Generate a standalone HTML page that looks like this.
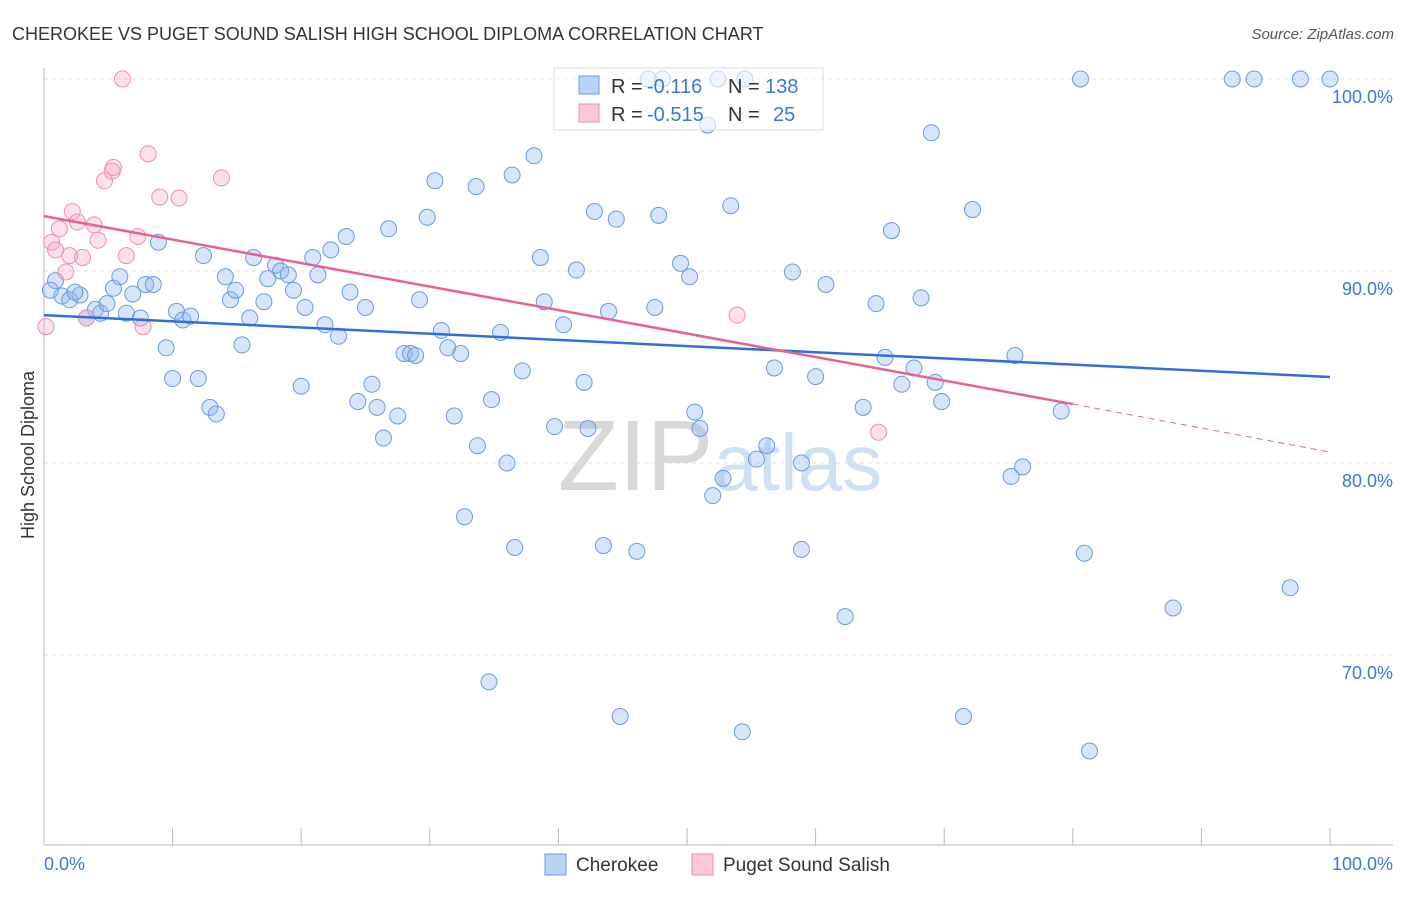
<!DOCTYPE html>
<html><head><meta charset="utf-8"><style>
body{margin:0;background:#fff;font-family:"Liberation Sans",sans-serif;}
svg text{font-family:"Liberation Sans",sans-serif;}
</style></head><body>
<svg id="chart" width="1406" height="892" viewBox="0 0 1406 892">
<text x="12" y="40" font-size="18" fill="#333">CHEROKEE VS PUGET SOUND SALISH HIGH SCHOOL DIPLOMA CORRELATION CHART</text>
<text x="1394" y="39" font-size="15" fill="#555" text-anchor="end" font-style="italic">Source: ZipAtlas.com</text>
<text x="34" y="455" font-size="18" fill="#333" text-anchor="middle" transform="rotate(-90 34 455)">High School Diploma</text>
<text x="720" y="490" font-size="100" fill="#ddd" text-anchor="middle" font-family="Liberation Serif"><tspan fill="#d8d8d8">ZIP</tspan><tspan fill="#d0e0f3" font-family="Liberation Sans" font-size="80">atlas</tspan></text>
<g id="grid"></g><g id="marks"></g>
<g>
<rect x="554" y="68" width="269" height="62" fill="rgba(255,255,255,0.6)" stroke="#ddd"/>
<rect x="579" y="76" width="20" height="18" fill="#b9d3f5" stroke="#6a9be0"/>
<rect x="579" y="104" width="20" height="18" fill="#fbc8d8" stroke="#ee8fae"/>
<text x="611" y="93" font-size="20" fill="#333">R =</text><text x="647" y="93" font-size="20" fill="#3d78d8">-0.116</text>
<text x="728" y="93" font-size="20" fill="#333">N =</text><text x="765" y="93" font-size="20" fill="#3d78d8">138</text>
<text x="611" y="121" font-size="20" fill="#333">R =</text><text x="647" y="121" font-size="20" fill="#3d78d8">-0.515</text>
<text x="728" y="121" font-size="20" fill="#333">N =</text><text x="773" y="121" font-size="20" fill="#3d78d8">25</text>
</g>
<g>
<rect x="545" y="854" width="21" height="21" fill="#b9d3f5" stroke="#6a9be0"/>
<text x="576" y="871" font-size="19" fill="#333">Cherokee</text>
<rect x="692" y="854" width="21" height="21" fill="#fbc8d8" stroke="#ee8fae"/>
<text x="723" y="871" font-size="19" fill="#333">Puget Sound Salish</text>
</g>
</svg>
<script>
const yTicks=[100,90,80,70];
const yTickLabels=["100.0%","90.0%","80.0%","70.0%"];
const xTickLabels=["0.0%","100.0%"];
const cherX=[0.9,0.5,1.4,2.0,2.8,2.4,3.3,4.0,4.4,4.9,5.4,5.9,6.4,6.9,7.5,7.9,8.5,8.9,9.5,10.0,10.3,10.8,11.4,12.0,12.4,12.9,13.4,14.1,14.5,14.9,15.4,16.0,16.3,17.1,17.4,18.0,18.4,19.0,19.4,20.0,20.3,20.9,21.3,21.85,22.3,22.9,23.5,23.8,24.4,25.0,25.5,25.9,26.4,26.8,27.5,28.0,28.5,28.9,29.2,29.8,30.4,30.9,31.4,31.9,32.4,32.7,33.6,33.7,34.6,34.8,35.5,36.0,36.4,36.6,37.2,38.1,38.6,38.9,39.7,40.4,41.4,42.0,42.3,42.8,43.5,43.9,44.5,44.8,46.1,47.5,47.8,49.5,50.2,50.6,51.0,51.6,52.0,52.8,53.4,54.3,55.4,56.2,56.8,58.2,58.9,58.9,60.0,60.8,62.3,63.7,64.7,65.4,65.9,66.7,67.65,68.2,69.0,69.3,69.8,71.5,72.2,75.2,75.5,76.1,79.1,80.6,80.9,81.3,87.8,92.4,94.1,96.9,97.7,100,47.0,48.1,52.4,54.5];
const cherY=[89.5,89.0,88.7,88.5,88.75,88.9,87.55,88.0,87.8,88.3,89.1,89.7,87.8,88.8,87.55,89.3,89.3,91.5,86.0,84.4,87.9,87.45,87.65,84.4,90.8,82.9,82.55,89.7,88.5,89.0,86.15,87.55,90.7,88.4,89.6,90.3,90.0,89.8,89.0,84.0,88.1,90.7,89.8,87.2,91.1,86.6,91.8,88.9,83.2,88.1,84.1,82.9,81.3,92.2,82.45,85.7,85.7,85.6,88.5,92.8,94.7,86.9,86.0,82.45,85.7,77.2,94.4,80.9,68.6,83.3,86.8,80.0,95.0,75.6,84.8,96.0,90.7,88.4,81.9,87.2,90.05,84.2,81.8,93.1,75.7,87.9,92.7,66.8,75.4,88.1,92.9,90.4,89.7,82.65,81.8,97.6,78.3,79.2,93.4,66.0,80.2,80.9,84.95,89.95,80.0,75.5,84.5,89.3,72.0,82.9,88.3,85.5,92.1,84.1,84.95,88.6,97.2,84.2,83.2,66.8,93.2,79.3,85.6,79.8,82.7,100,75.3,65.0,72.45,100,100,73.5,100,100,100,100,100,100];
const pugX=[0.15,0.6,0.9,1.2,1.7,2.0,2.2,2.6,3.0,3.3,3.9,4.2,4.7,5.3,5.4,6.1,6.4,7.3,7.7,8.1,9.0,10.5,13.8,53.9,64.9];
const pugY=[87.1,91.5,91.1,92.2,89.95,90.8,93.1,92.55,90.7,87.55,92.4,91.6,94.7,95.2,95.4,100,90.8,91.8,87.1,96.1,93.85,93.8,94.85,87.7,81.6];
const cherTrend=[87.7,84.48];
const pugTrend=[92.86,83.07,80.57];
const NS="http://www.w3.org/2000/svg";
const sx=v=>44+v*12.86, sy=v=>79+(100-v)*19.2;
function mk(t,a,p){const e=document.createElementNS(NS,t);for(const k in a)e.setAttribute(k,a[k]);p.appendChild(e);return e;}
const g=document.getElementById('grid'), m=document.getElementById('marks');
yTicks.forEach((t,i)=>{
 const l=mk('line',{x1:44,x2:1393,y1:sy(t),y2:sy(t),stroke:'#ddd','stroke-dasharray':'4,4'},g);
 
 
 const tx=mk('text',{x:1393,y:sy(t)+24,'font-size':18,fill:'#3d78d8','text-anchor':'end'},g);
 tx.textContent=yTickLabels[i];
 
 
});
mk('line',{x1:44,x2:44,y1:68,y2:845,stroke:'#bbb'},g);
mk('line',{x1:44,x2:1393,y1:845,y2:845,stroke:'#bbb'},g);
for(let i=1;i<=10;i++){const x=sx(i*10);mk('line',{x1:x,x2:x,y1:828,y2:845,stroke:'#bbb'},g);}
[[0,'start',44],[1,'end',1393]].forEach(([i,a,x])=>{
 const tx=mk('text',{x:x,y:870,'font-size':18,fill:'#3d78d8','text-anchor':a},g);
 tx.textContent=xTickLabels[i];
 
 
});
cherX.forEach((x,i)=>{
 const c=mk('circle',{cx:sx(x),cy:sy(cherY[i]),r:8,fill:'rgba(140,180,240,0.35)',stroke:'#6a9be0','stroke-width':1},m);
 
 
});
pugX.forEach((x,i)=>{
 const c=mk('circle',{cx:sx(x),cy:sy(pugY[i]),r:8,fill:'rgba(248,170,195,0.35)',stroke:'#ee8fae','stroke-width':1},m);
 
 
});
const tl=mk('line',{x1:sx(0),y1:sy(cherTrend[0]),x2:sx(100),y2:sy(cherTrend[1]),stroke:'#2f6fd6','stroke-width':2.5},m);


const pl=mk('line',{x1:sx(0),y1:sy(pugTrend[0]),x2:sx(80),y2:sy(pugTrend[1]),stroke:'#e8628f','stroke-width':2.5},m);


const pd=mk('line',{x1:sx(80),y1:sy(pugTrend[1]),x2:sx(100),y2:sy(pugTrend[2]),stroke:'#e8628f','stroke-width':1,'stroke-dasharray':'6,5'},m);


</script>
</body></html>
